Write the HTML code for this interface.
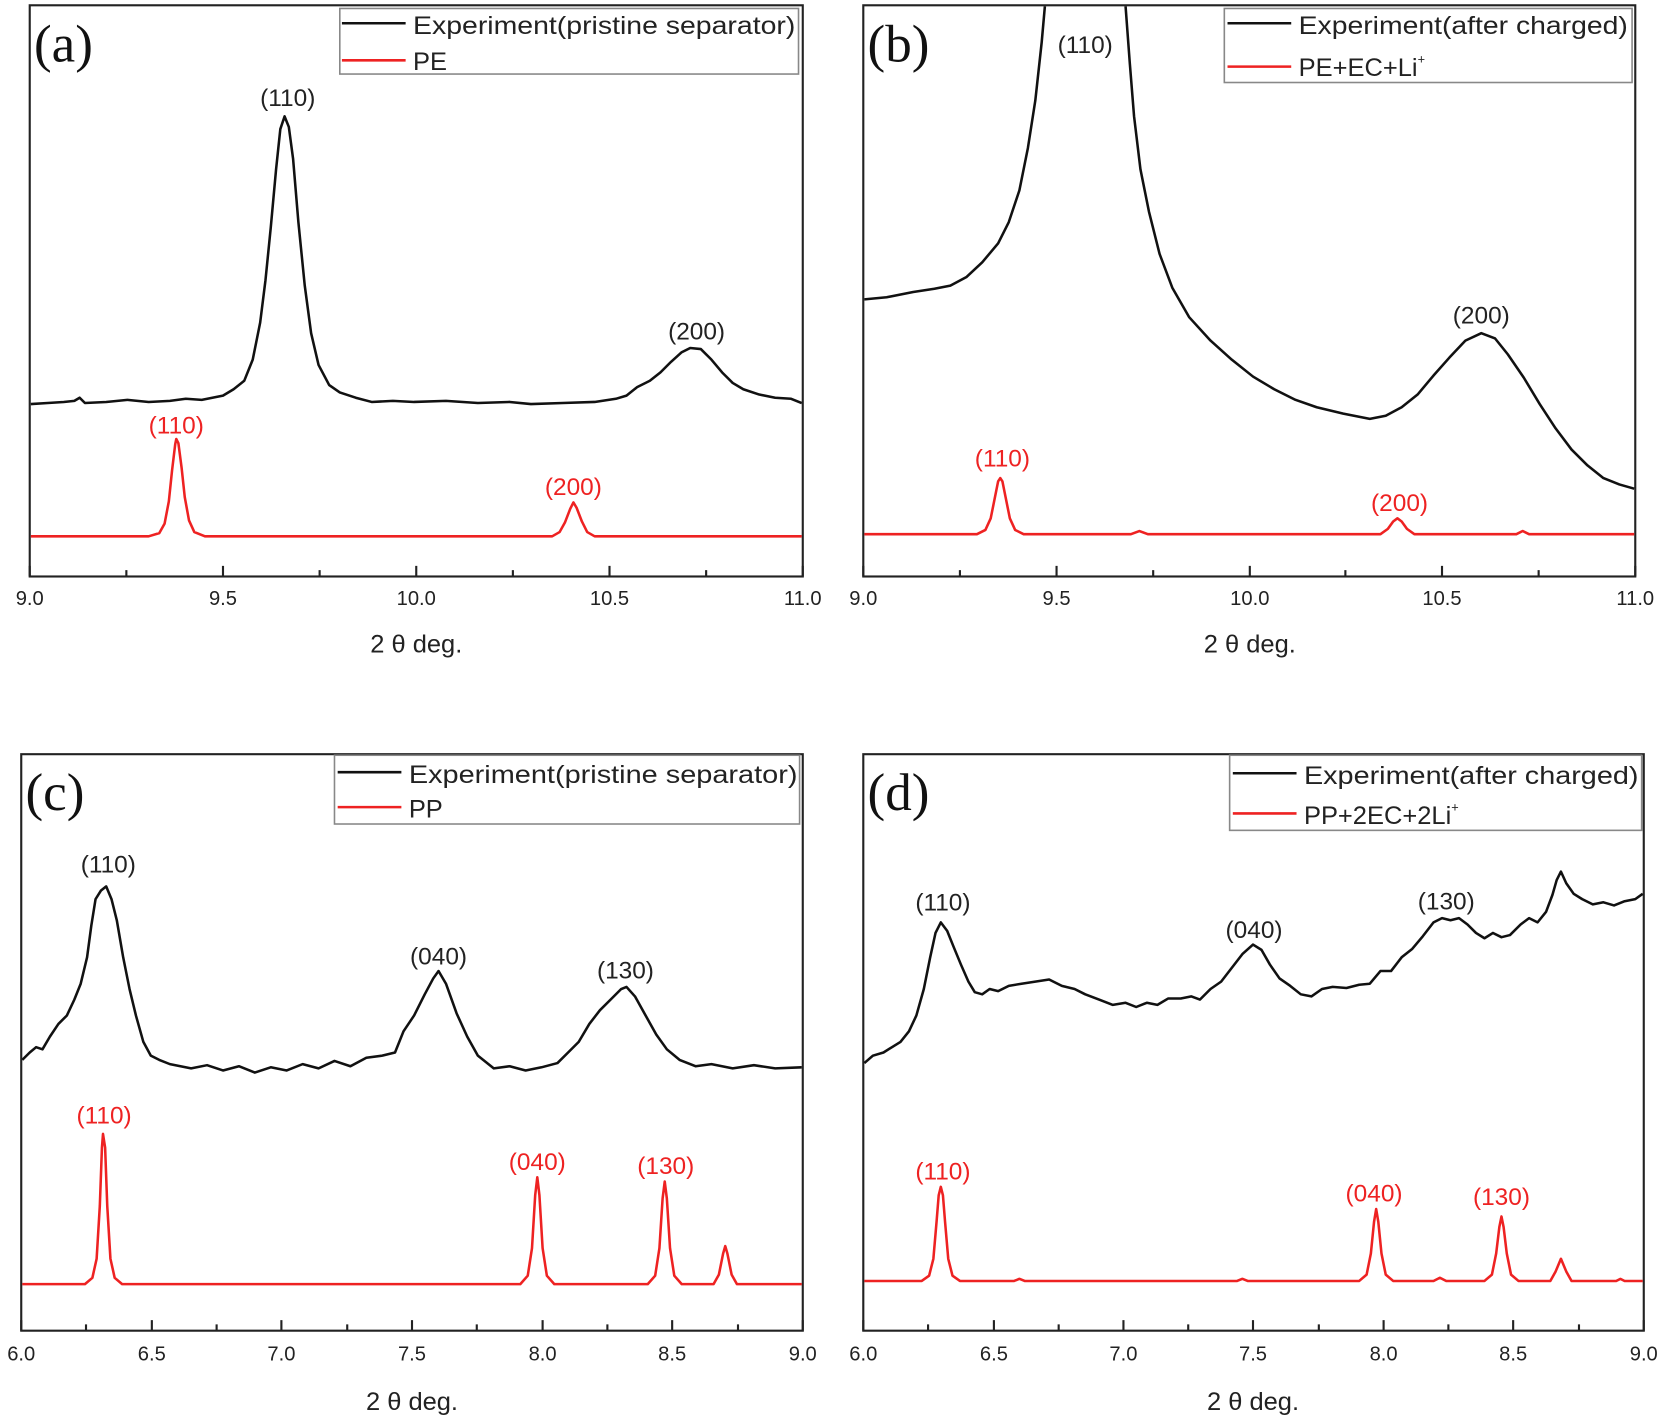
<!DOCTYPE html>
<html><head><meta charset="utf-8"><style>
html,body{margin:0;padding:0;background:#fff}
svg{display:block}
text{font-family:"Liberation Sans",sans-serif}
</style></head><body>
<svg width="1665" height="1428" viewBox="0 0 1568 1350" preserveAspectRatio="none" xmlns="http://www.w3.org/2000/svg">
<g fill="none" stroke="#222" stroke-width="2">
<rect x="28" y="5" width="728" height="540"/>
<rect x="813" y="5" width="727" height="540"/>
<rect x="20" y="713" width="736" height="545"/>
<rect x="813" y="713" width="735" height="545"/>
</g>
<g stroke="#222" stroke-width="2">
<path d="M28,545v-10M119,545v-6M210,545v-10M301,545v-6M392,545v-10M483,545v-6M574,545v-10M665,545v-6M756,545v-10"/>
<path d="M813,545v-10M904,545v-6M995,545v-10M1086,545v-6M1177,545v-10M1267,545v-6M1358,545v-10M1449,545v-6M1540,545v-10"/>
<path d="M20,1258v-10M81,1258v-6M143,1258v-10M204,1258v-6M265,1258v-10M327,1258v-6M388,1258v-10M449,1258v-6M511,1258v-10M572,1258v-6M633,1258v-10M695,1258v-6M756,1258v-10"/>
<path d="M813,1258v-10M874,1258v-6M936,1258v-10M997,1258v-6M1058,1258v-10M1119,1258v-6M1180,1258v-10M1242,1258v-6M1303,1258v-10M1364,1258v-6M1425,1258v-10M1487,1258v-6M1548,1258v-10"/>
</g>
<g fill="none" stroke-width="2.4" stroke-linejoin="round">
<polyline stroke="#111" points="29,382 45,381 60,380 70,379 75,376 80,381 100,380 120,378 140,380 160,379 175,377 190,378 200,376 210,374 220,368 230,360 238,340 245,305 250,265 255,215 260,160 264,122 268,110 272,120 276,150 281,210 287,270 293,315 300,345 310,364 320,371 335,376 350,380 370,379 390,380 420,379 450,381 480,380 500,382 530,381 560,380 580,377 590,374 600,366 612,360 622,352 632,342 642,333 650,329 660,330 670,340 680,352 690,362 700,368 715,373 730,376 745,377 755,381"/>
<polyline stroke="#e22" points="29,507 140,507 150,504 155,495 159,474 162,445 165,420 166,415 168,419 171,442 174,470 178,492 183,503 193,507 520,507 527,503 532,494 537,481 540,475 543,480 548,493 553,503 560,507 755,507"/>
<polyline stroke="#111" points="814,283 835,281 860,276 880,273 895,270 910,262 925,248 940,230 950,210 960,180 968,140 975,95 981,40 984,6 M1062,6"/>
<polyline stroke="#111" points="1060,6 1064,60 1068,110 1074,160 1082,200 1092,240 1104,272 1120,300 1140,322 1160,340 1180,356 1200,368 1220,378 1240,385 1265,391 1290,396 1305,393 1320,385 1335,373 1350,355 1365,338 1380,322 1395,315 1408,320 1420,335 1435,357 1450,382 1465,405 1480,425 1495,440 1510,452 1525,458 1539,462"/>
<polyline stroke="#e22" points="814,505 920,505 928,501 933,490 937,470 940,455 942,452 944,455 947,470 951,490 956,501 964,505 1065,505 1073,502 1081,505 1300,505 1307,500 1312,493 1316,490 1320,493 1325,500 1332,505 1428,505 1434,502 1440,505 1539,505"/>
<polyline stroke="#111" points="21,1002 28,995 34,990 40,992 47,980 55,968 63,960 70,945 76,930 82,905 86,875 90,850 95,842 100,838 105,850 110,870 116,905 122,935 128,960 135,985 142,998 150,1002 160,1006 170,1008 180,1010 195,1007 210,1012 225,1008 240,1014 255,1009 270,1012 285,1006 300,1010 315,1003 330,1008 345,1000 360,998 372,995 380,975 390,960 400,940 408,925 413,918 420,930 430,958 440,980 450,998 465,1010 480,1008 495,1012 510,1009 525,1005 535,995 545,985 555,968 565,955 575,945 585,935 590,933 598,942 608,960 618,978 628,992 640,1002 655,1008 670,1006 690,1010 710,1007 730,1010 755,1009"/>
<polyline stroke="#e22" points="21,1214 80,1214 87,1208 91,1190 94,1140 96,1085 97,1072 99,1085 101,1140 104,1190 108,1208 115,1214 490,1214 497,1206 501,1180 504,1130 506,1113 508,1130 511,1180 515,1206 522,1214 610,1214 617,1206 621,1180 624,1133 626,1117 628,1133 631,1180 635,1206 642,1214 672,1214 677,1205 681,1185 683,1178 685,1185 689,1205 694,1214 755,1214"/>
<polyline stroke="#111" points="814,1005 822,998 832,995 840,990 848,985 856,975 863,960 870,935 876,905 881,882 886,872 892,880 898,895 905,912 912,928 918,938 925,940 932,935 940,937 950,932 962,930 975,928 988,926 1000,932 1012,935 1022,940 1035,945 1048,950 1060,948 1070,952 1080,948 1090,950 1100,944 1112,944 1122,942 1130,945 1140,935 1150,928 1160,915 1170,902 1180,893 1188,898 1196,912 1205,925 1215,932 1225,940 1235,942 1245,935 1255,933 1268,934 1280,931 1290,930 1300,918 1310,918 1320,905 1330,897 1340,885 1350,872 1358,868 1366,870 1374,868 1382,874 1390,882 1398,887 1406,882 1414,886 1422,884 1432,874 1440,868 1448,872 1456,862 1462,846 1466,832 1470,824 1475,835 1482,845 1490,850 1500,855 1510,853 1520,856 1530,852 1540,850 1547,845"/>
<polyline stroke="#e22" points="814,1211 868,1211 875,1206 879,1190 882,1155 884,1130 886,1122 888,1130 890,1155 893,1190 897,1206 904,1211 955,1211 960,1209 965,1211 1165,1211 1170,1209 1175,1211 1280,1211 1287,1205 1291,1185 1294,1155 1296,1143 1298,1155 1301,1185 1305,1205 1312,1211 1350,1211 1356,1208 1362,1211 1398,1211 1405,1205 1409,1185 1412,1160 1414,1150 1416,1160 1419,1185 1423,1205 1430,1211 1460,1211 1465,1202 1470,1190 1475,1202 1480,1211 1522,1211 1526,1209 1530,1211 1547,1211"/>
</g>
<g font-size="19" fill="#222" text-anchor="middle">
<text x="28" y="572">9.0</text><text x="210" y="572">9.5</text><text x="392" y="572">10.0</text><text x="574" y="572">10.5</text><text x="756" y="572">11.0</text>
<text x="813" y="572">9.0</text><text x="995" y="572">9.5</text><text x="1177" y="572">10.0</text><text x="1358" y="572">10.5</text><text x="1540" y="572">11.0</text>
<text x="20" y="1286">6.0</text><text x="143" y="1286">6.5</text><text x="265" y="1286">7.0</text><text x="388" y="1286">7.5</text><text x="511" y="1286">8.0</text><text x="633" y="1286">8.5</text><text x="756" y="1286">9.0</text>
<text x="813" y="1286">6.0</text><text x="936" y="1286">6.5</text><text x="1058" y="1286">7.0</text><text x="1180" y="1286">7.5</text><text x="1303" y="1286">8.0</text><text x="1425" y="1286">8.5</text><text x="1548" y="1286">9.0</text>
<text font-size="24" x="392" y="617">2 θ deg.</text><text font-size="24" x="1177" y="617">2 θ deg.</text>
<text font-size="24" x="388" y="1333">2 θ deg.</text><text font-size="24" x="1180" y="1333">2 θ deg.</text>
</g>
<g font-size="50" fill="#111">
<text x="32" y="58" style="font-family:'Liberation Serif',serif">(a)</text>
<text x="817" y="58" style="font-family:'Liberation Serif',serif">(b)</text>
<text x="24" y="766" style="font-family:'Liberation Serif',serif">(c)</text>
<text x="817" y="766" style="font-family:'Liberation Serif',serif">(d)</text>
</g>
<g stroke="#888" stroke-width="1.5" fill="#fff">
<rect x="320" y="8" width="432" height="62"/>
<rect x="1153" y="8" width="384" height="70"/>
<rect x="315" y="714" width="438" height="65"/>
<rect x="1158" y="714" width="388" height="71"/>
</g>
<g stroke-width="2.4">
<line x1="322" y1="22" x2="382" y2="22" stroke="#111"/><line x1="322" y1="57" x2="382" y2="57" stroke="#e22"/>
<line x1="1156" y1="22" x2="1216" y2="22" stroke="#111"/><line x1="1156" y1="63" x2="1216" y2="63" stroke="#e22"/>
<line x1="318" y1="730" x2="378" y2="730" stroke="#111"/><line x1="318" y1="763" x2="378" y2="763" stroke="#e22"/>
<line x1="1161" y1="731" x2="1221" y2="731" stroke="#111"/><line x1="1161" y1="769" x2="1221" y2="769" stroke="#e22"/>
</g>
<g font-size="24" fill="#222">
<text x="389" y="32" textLength="360" lengthAdjust="spacingAndGlyphs">Experiment(pristine separator)</text><text x="389" y="66">PE</text>
<text x="1223" y="32" textLength="310" lengthAdjust="spacingAndGlyphs">Experiment(after charged)</text><text x="1223" y="72">PE+EC+Li<tspan font-size="12" dy="-12">+</tspan></text>
<text x="385" y="740" textLength="366" lengthAdjust="spacingAndGlyphs">Experiment(pristine separator)</text><text x="385" y="773">PP</text>
<text x="1228" y="741" textLength="315" lengthAdjust="spacingAndGlyphs">Experiment(after charged)</text><text x="1228" y="779">PP+2EC+2Li<tspan font-size="12" dy="-12">+</tspan></text>
</g>
<g font-size="23" text-anchor="middle">
<g fill="#222">
<text x="271" y="100">(110)</text><text x="656" y="321">(200)</text>
<text x="1022" y="50">(110)</text><text x="1395" y="306">(200)</text>
<text x="102" y="825">(110)</text><text x="413" y="912">(040)</text><text x="589" y="925">(130)</text>
<text x="888" y="861">(110)</text><text x="1181" y="887">(040)</text><text x="1362" y="860">(130)</text>
</g>
<g fill="#e22">
<text x="166" y="410">(110)</text><text x="540" y="468">(200)</text>
<text x="944" y="441">(110)</text><text x="1318" y="483">(200)</text>
<text x="98" y="1062">(110)</text><text x="506" y="1106">(040)</text><text x="627" y="1110">(130)</text>
<text x="888" y="1115">(110)</text><text x="1294" y="1136">(040)</text><text x="1414" y="1139">(130)</text>
</g></g>
</svg>
</body></html>
